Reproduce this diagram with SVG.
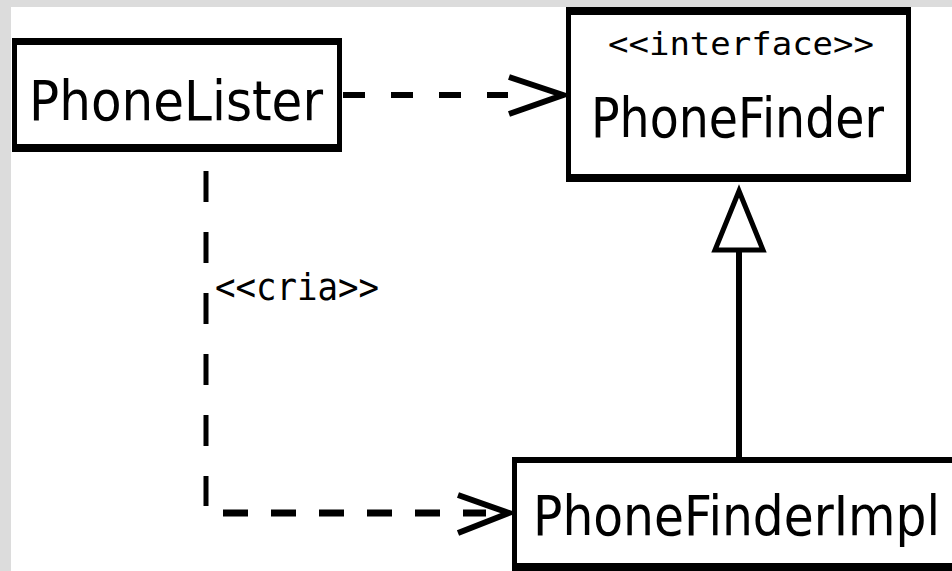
<svg xmlns="http://www.w3.org/2000/svg" width="952" height="571" viewBox="0 0 952 571">
  <style>
    .frame { fill: #000000; }
    .body { fill: #ffffff; }
    .name { font-family: "DejaVu Sans", "Liberation Sans", sans-serif; font-size: 56px; fill: #000000; }
    .stereo { font-family: "DejaVu Sans Mono", "Liberation Mono", monospace; fill: #000000; }
    .dash { fill: none; stroke: #000000; }
    .head { fill: none; stroke: #000000; stroke-width: 6; stroke-linecap: butt; stroke-linejoin: miter; }
  </style>

  <!-- canvas -->
  <rect x="0" y="0" width="952" height="571" fill="#ffffff"/>
  <rect x="0" y="0" width="952" height="7" fill="#dcdcdc"/>
  <rect x="0" y="0" width="11" height="571" fill="#dcdcdc"/>

  <!-- connectors -->
  <g id="connectors">
    <!-- PhoneLister uses PhoneFinder -->
    <line class="dash" x1="343" y1="95" x2="508" y2="95" stroke-width="6" stroke-dasharray="22 26"/>
    <polyline class="head" points="509,77 563,95 509,114"/>

    <!-- PhoneLister creates PhoneFinderImpl -->
    <line class="dash" x1="206" y1="171" x2="206" y2="506" stroke-width="5" stroke-dasharray="31 30"/>
    <line class="dash" x1="223" y1="513" x2="486" y2="513" stroke-width="7" stroke-dasharray="25 23"/>
    <polyline class="head" points="458,495 509,513 458,533"/>
    <text class="stereo" x="215" y="300" font-size="38" textLength="164" lengthAdjust="spacingAndGlyphs">&lt;&lt;cria&gt;&gt;</text>

    <!-- PhoneFinderImpl realizes PhoneFinder -->
    <line x1="739" y1="250" x2="739" y2="457" stroke="#000000" stroke-width="6"/>
    <polygon points="739,191 715,250 763,250" fill="#ffffff" stroke="#000000" stroke-width="5" stroke-linejoin="miter"/>
  </g>

  <!-- PhoneLister -->
  <g id="phone-lister">
    <rect class="frame" x="12" y="38" width="330" height="114"/>
    <rect class="body" x="17" y="45" width="320" height="99"/>
    <text class="name" x="29" y="120" textLength="294" lengthAdjust="spacingAndGlyphs">PhoneLister</text>
  </g>

  <!-- PhoneFinder -->
  <g id="phone-finder">
    <rect class="frame" x="566" y="7" width="345" height="175"/>
    <rect class="body" x="571" y="15" width="335" height="159"/>
    <text class="stereo" x="608" y="55" font-size="32" textLength="266" lengthAdjust="spacingAndGlyphs">&lt;&lt;interface&gt;&gt;</text>
    <text class="name" x="591" y="137" textLength="293" lengthAdjust="spacingAndGlyphs">PhoneFinder</text>
  </g>

  <!-- PhoneFinderImpl (runs off the right and bottom edges) -->
  <g id="phone-finder-impl">
    <rect class="frame" x="512" y="457" width="440" height="114"/>
    <rect class="body" x="517" y="463" width="435" height="100"/>
    <text class="name" x="533" y="535" textLength="407" lengthAdjust="spacingAndGlyphs">PhoneFinderImpl</text>
  </g>
</svg>
